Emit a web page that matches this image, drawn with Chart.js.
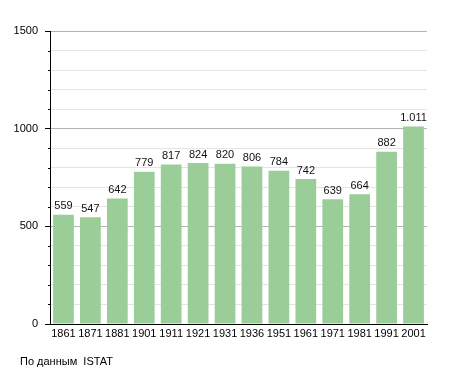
<!DOCTYPE html>
<html>
<head>
<meta charset="utf-8">
<script src="https://cdn.jsdelivr.net/npm/chart.js@4"></script>
<style>
  body { margin: 0; background: #fff; }
  #wrap { position: relative; width: 455px; height: 373px; }
  #fonte { position: absolute; left: 20px; top: 355px; font: 11px "Liberation Sans", Arial, sans-serif; color: #000; }
</style>
</head>
<body>
<div id="wrap">
  <canvas id="grafico" width="455" height="373"></canvas>
  <div id="fonte">По данным&nbsp; ISTAT</div>
</div>
<script>
const anni = ['1861', '1871', '1881', '1901', '1911', '1921', '1931', '1936', '1951', '1961', '1971', '1981', '1991', '2001'];
const abitanti = [559, 547, 642, 779, 817, 824, 820, 806, 784, 742, 639, 664, 882, 1011];
const etichetteY = [0, 500, 1000, 1500];

const fontBase = { family: '"Liberation Sans", Arial, sans-serif', size: 11 };

// scrive il valore sopra ogni barra (formato italiano 1.011)
const valoriSopra = {
    id: 'valoriSopra',
    afterDatasetsDraw(chart) {
        const ctx = chart.ctx;
        const meta = chart.getDatasetMeta(0);
        ctx.save();
        ctx.fillStyle = '#111';
        ctx.font = '11px "Liberation Sans", Arial, sans-serif';
        ctx.textAlign = 'center';
        ctx.textBaseline = 'bottom';
        meta.data.forEach((bar, i) => {
            const txt = abitanti[i].toLocaleString('it-IT');
            ctx.fillText(txt, bar.x, bar.y - 3);
        });
        ctx.restore();
    }
};

// tacche corte per i valori intermedi dell'asse y
const tacchePiccole = {
    id: 'tacchePiccole',
    afterDraw(chart) {
        const sc = chart.scales.y;
        const ctx = chart.ctx;
        ctx.save();
        ctx.strokeStyle = '#000';
        ctx.lineWidth = 1;
        sc.ticks.forEach(t => {
            if (etichetteY.includes(t.value)) return;
            const y = Math.round(sc.getPixelForValue(t.value)) + 0.5;
            ctx.beginPath();
            ctx.moveTo(sc.right - 2, y);
            ctx.lineTo(sc.right, y);
            ctx.stroke();
        });
        ctx.restore();
    }
};

new Chart(document.getElementById('grafico').getContext('2d'), {
    type: 'bar',
    data: {
        labels: anni,
        datasets: [{
            data: abitanti,
            backgroundColor: '#9acd98',
            borderWidth: 0,
            barPercentage: 0.77,
            categoryPercentage: 1
        }]
    },
    options: {
        responsive: false,
        animation: false,
        layout: { padding: { left: 0, right: 28, top: 31, bottom: 29 } },
        plugins: { legend: { display: false }, tooltip: { enabled: false } },
        scales: {
            x: {
                afterFit: s => { s.height = 20; },
                grid: { display: false, drawTicks: false },
                border: { color: '#000', width: 1 },
                ticks: { color: '#000', font: fontBase, padding: 3, maxRotation: 0, autoSkip: false }
            },
            y: {
                min: 0,
                max: 1500,
                afterFit: s => { s.width = 50; },
                border: { color: '#000', width: 1 },
                grid: {
                    color: c => etichetteY.includes(c.tick.value) ? '#b4b4b4' : '#e4e4e4',
                    tickColor: c => etichetteY.includes(c.tick.value) ? '#000' : 'rgba(0,0,0,0)',
                    tickLength: 5
                },
                ticks: {
                    stepSize: 100,
                    color: '#000',
                    font: fontBase,
                    padding: 7,
                    callback: v => etichetteY.includes(v) ? String(v) : ''
                }
            }
        }
    },
    plugins: [valoriSopra, tacchePiccole]
});
</script>
</body>
</html>
